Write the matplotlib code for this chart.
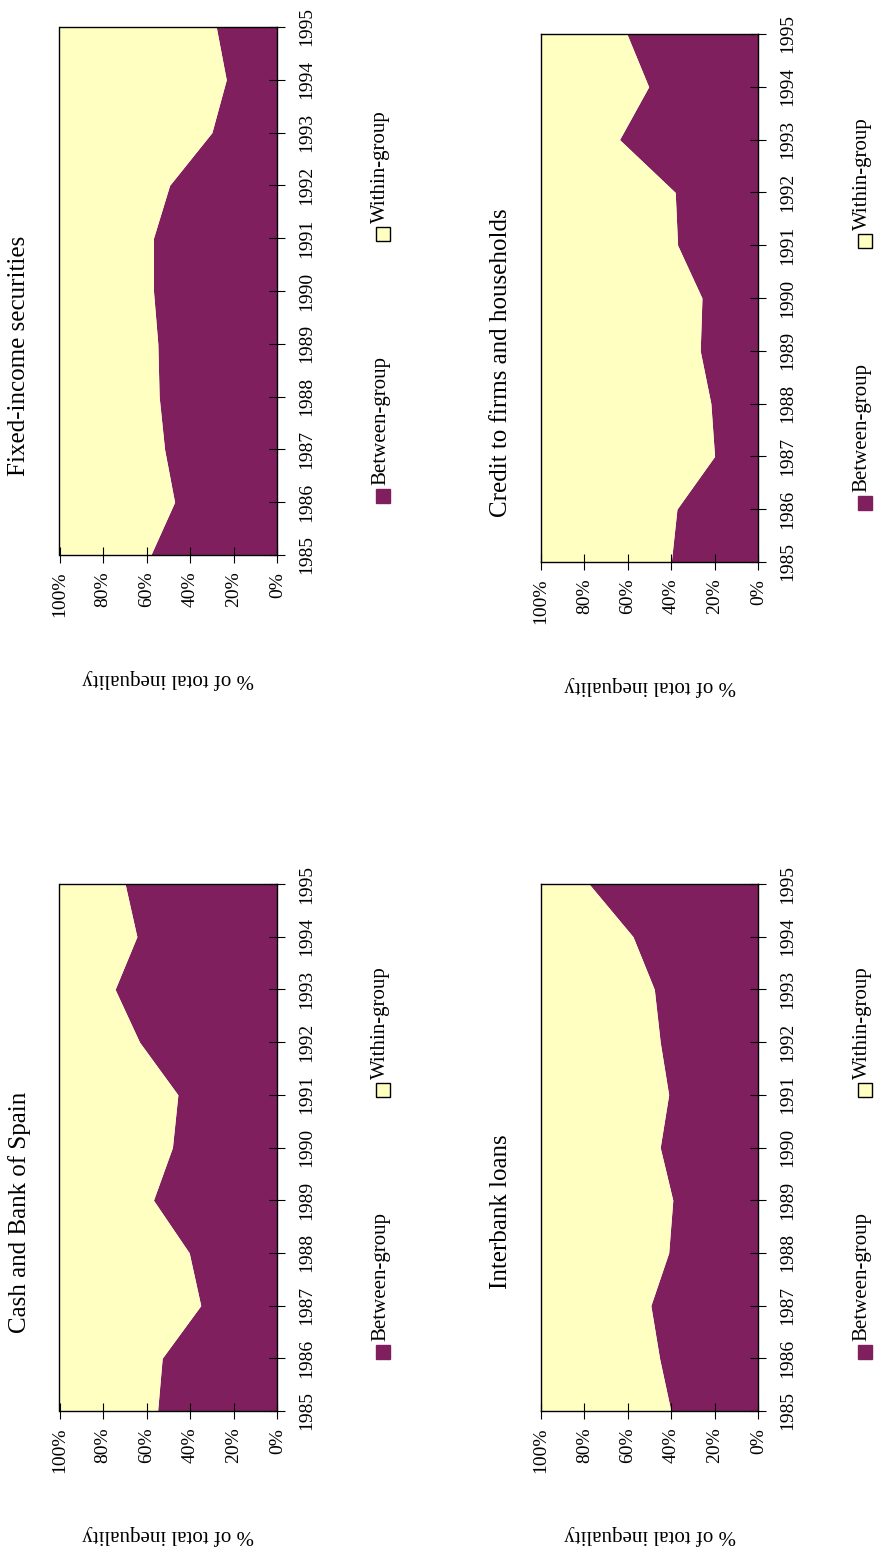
import matplotlib
matplotlib.use("Agg")
import matplotlib.pyplot as plt
from matplotlib.patches import Rectangle

# page is printed sideways: years run upward, shares run right-to-left
years = [1985, 1986, 1987, 1988, 1989, 1990, 1991, 1992, 1993, 1994, 1995]
pct_ticks = [0, 20, 40, 60, 80, 100]
pct_labels = ["0%", "20%", "40%", "60%", "80%", "100%"]

titles = ["Cash and Bank of Spain", "Fixed-income securities",
          "Interbank loans", "Credit to firms and households"]

# between-group share (% of total inequality); within-group is the rest
cash_between = [55.0, 52.9, 35.2, 40.5, 56.9, 48.2, 45.7, 63.3, 74.5, 64.5, 69.9]
fixed_between = [58.1, 47.2, 51.8, 54.3, 54.9, 56.9, 56.9, 49.5, 30.1, 23.5, 28.1]
interbank_between = [40.3, 45.5, 49.5, 41.3, 39.4, 45.2, 41.3, 45.2, 47.9, 57.7, 77.9]
credit_between = [40.1, 37.5, 20.2, 21.9, 26.8, 26.0, 37.2, 38.3, 63.9, 50.5, 60.5]

series = [cash_between, fixed_between, interbank_between, credit_between]
legend_labels = ["Between-group", "Within-group"]
ylabel = "% of total inequality"

PURPLE = "#7f1f5d"
YELLOW = "#ffffc2"
W, H = 879, 1548

plt.rcParams['font.family'] = ['Liberation Serif', 'DejaVu Serif']

fig = plt.figure(figsize=(W / 100, H / 100), dpi=100)

# axes boxes in pixels: left, top, right, bottom
boxes = [
    (59.5, 884, 277.5, 1411),
    (59.5, 27, 277.5, 555),
    (541, 884, 758.5, 1411),
    (541, 34, 758.5, 562),
]


def fx(x):
    return x / W


def fy(y):
    return 1 - y / H


for (x0, y0, x1, y1), title, between in zip(boxes, titles, series):
    ax = fig.add_axes([fx(x0), fy(y1), (x1 - x0) / W, (y1 - y0) / H])
    ax.fill_betweenx(years, 0, between, color=PURPLE, lw=0)
    ax.fill_betweenx(years, between, 100, color=YELLOW, lw=0)
    ax.set_xlim(100, 0)
    ax.set_ylim(1985, 1995)
    ax.set_xticks(pct_ticks)
    ax.set_xticklabels(pct_labels, rotation=90, fontsize=14)
    ax.yaxis.tick_right()
    ax.set_yticks(years)
    ax.set_yticklabels([str(y) for y in years], rotation=90, fontsize=14,
                       va="center")
    ax.tick_params(direction="inout", length=12, width=0.8)
    ax.tick_params(axis="x", pad=6)
    ax.tick_params(axis="y", pad=9)
    for sp in ax.spines.values():
        sp.set_linewidth(1.0)

    # title (left side), y label (bottom, upside down)
    fig.text(fx(x0 - 40), fy(y1 - 199), title, rotation=90, fontsize=18,
             ha="center", va="center")
    fig.text(fx((x0 + x1) / 2), fy(y1 + 124), ylabel, rotation=180,
             fontsize=15, ha="center", va="center")

    # legend on the right side
    for k, (lab, col, ec) in enumerate(zip(legend_labels, [PURPLE, YELLOW],
                                           [PURPLE, "black"])):
        cy = y1 - 59 - 262 * k
        cx = x0 + 324
        fig.add_artist(Rectangle((fx(cx - 7), fy(cy + 7)), 14 / W, 14 / H,
                                 transform=fig.transFigure, facecolor=col,
                                 edgecolor=ec, lw=1))
        fig.text(fx(cx - 3), fy(cy - 11), lab, rotation=90, fontsize=15,
                 ha="center", va="bottom")

fig.savefig("out.png", dpi=100)
